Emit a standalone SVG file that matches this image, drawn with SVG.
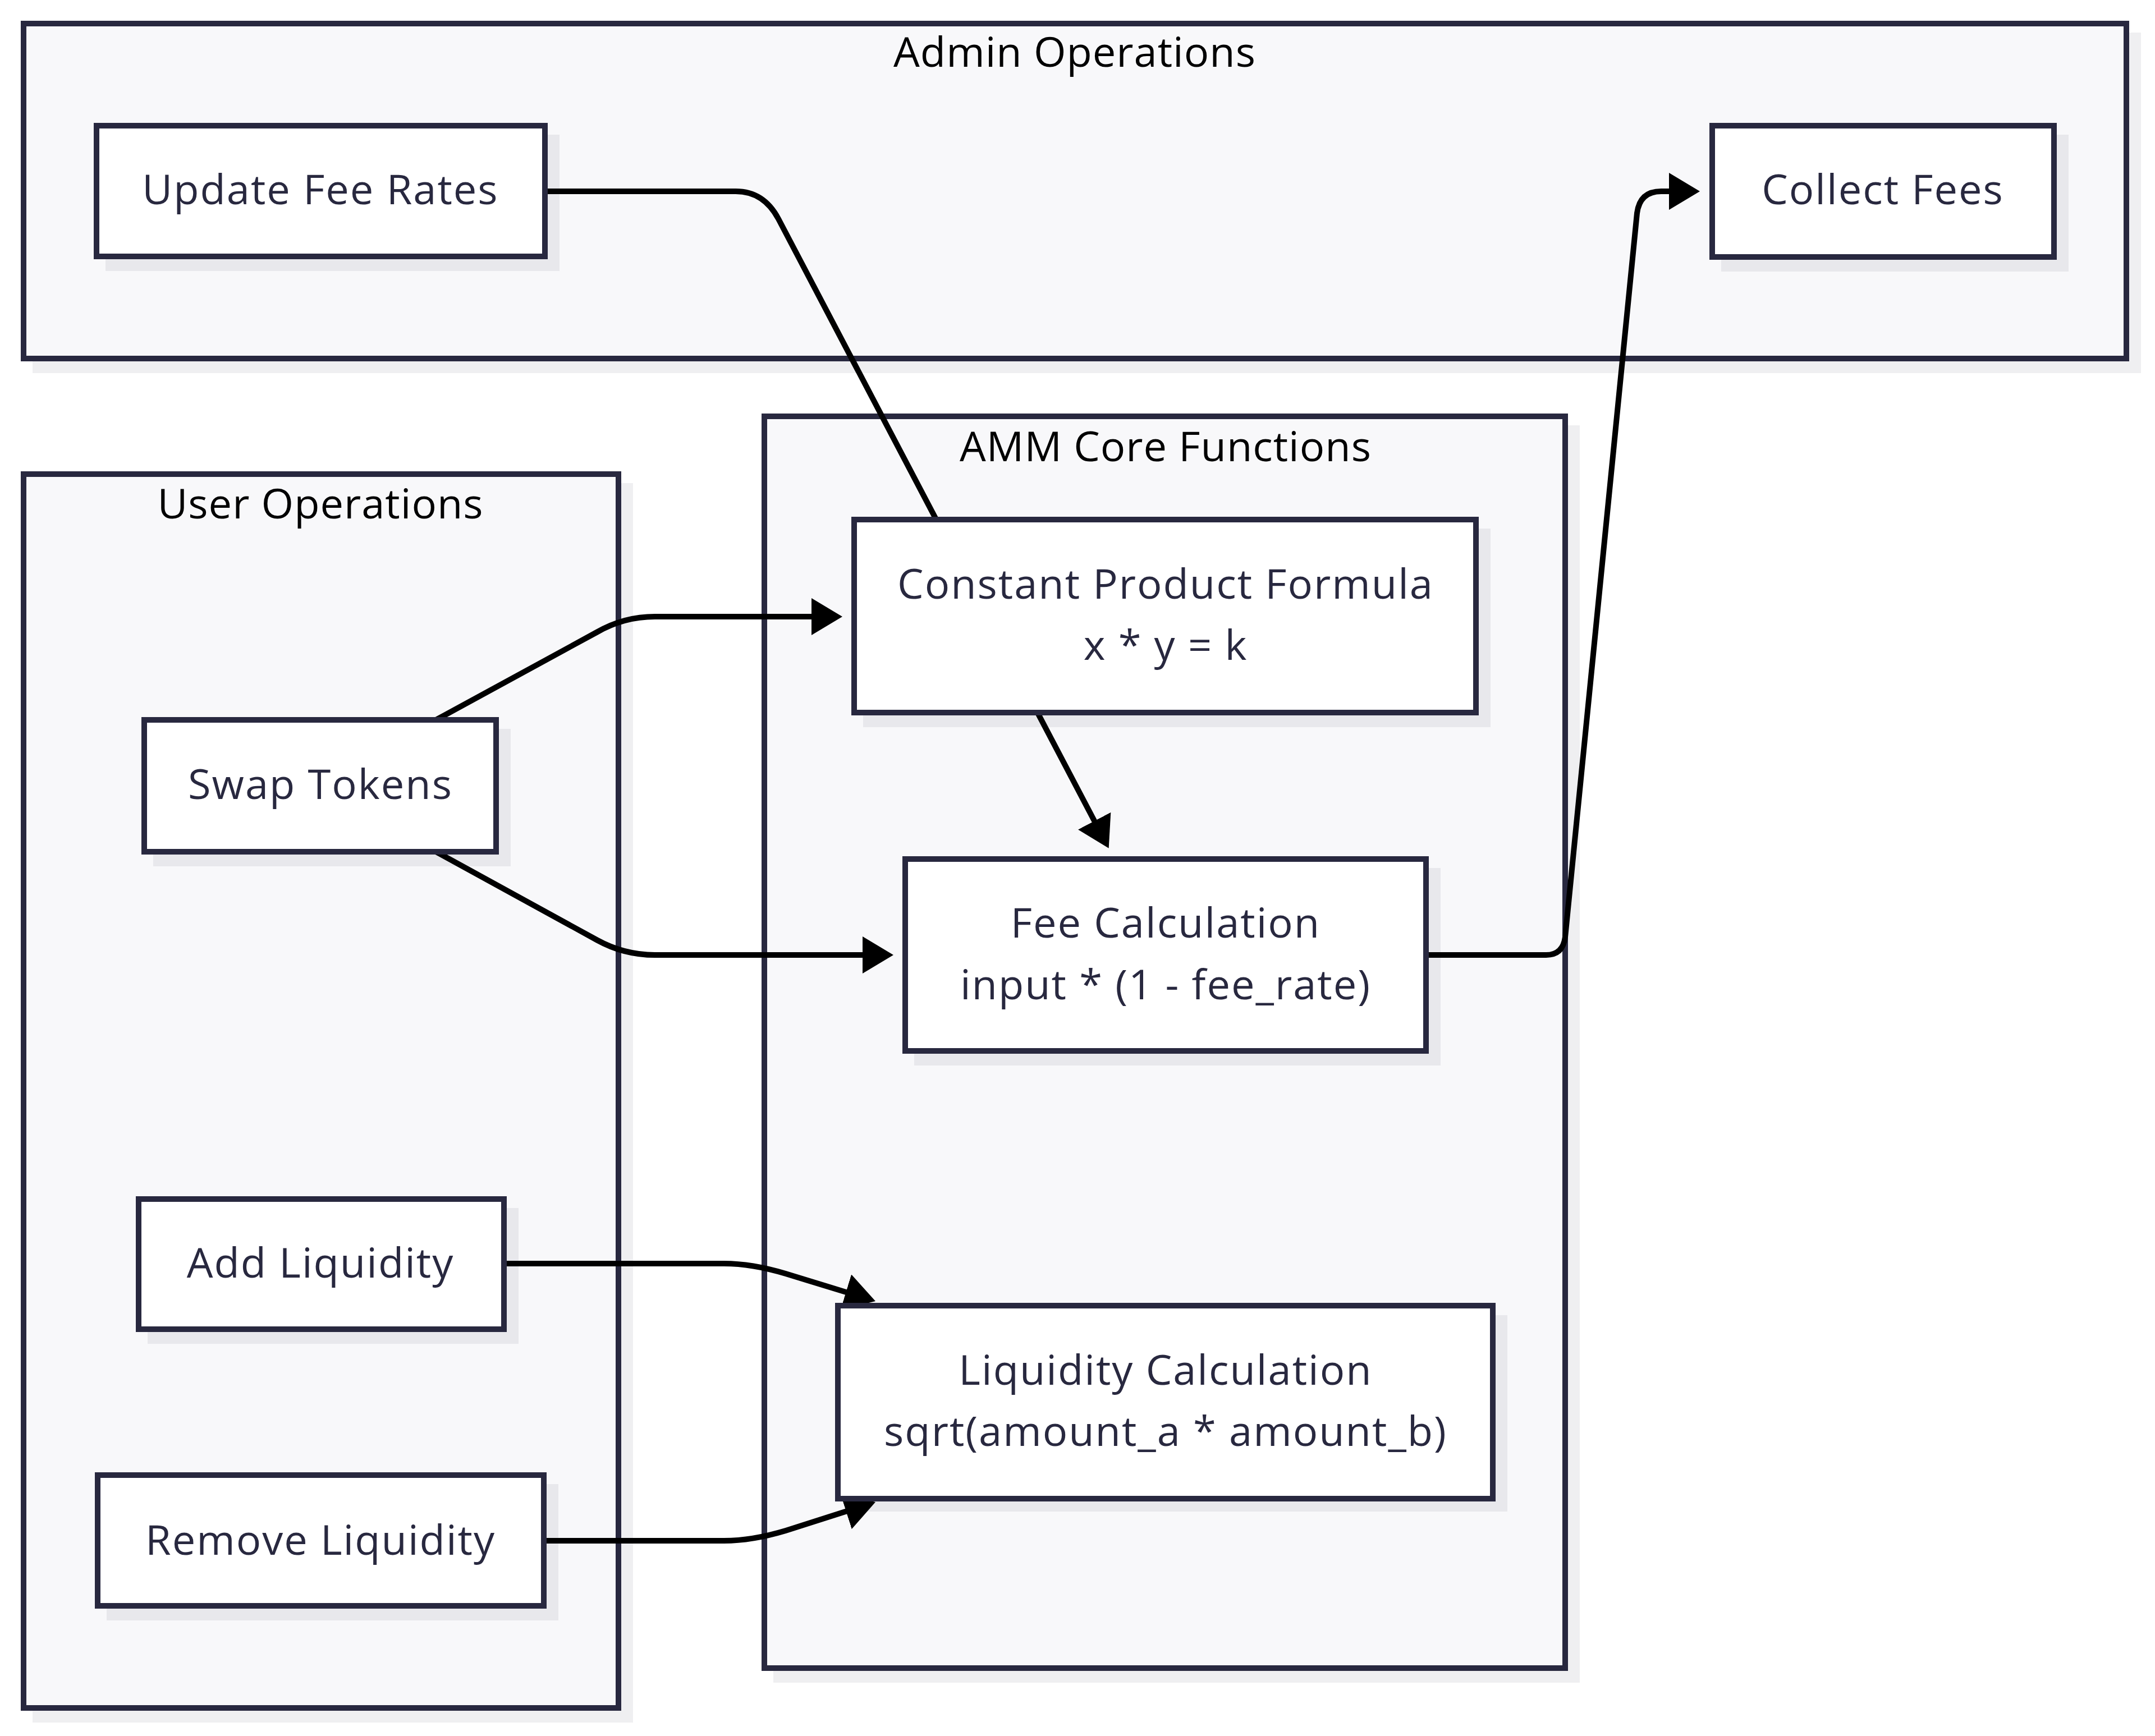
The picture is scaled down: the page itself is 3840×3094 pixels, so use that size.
<svg xmlns="http://www.w3.org/2000/svg" width="3840" height="3094" viewBox="0 0 3840 3094">
<style>
.cl{fill:#f8f8fa;stroke:#28283f;stroke-width:10}
.cls{fill:#efeff1}
.nd{fill:#ffffff;stroke:#28283f;stroke-width:10}
.nds{fill:#e8e8ec}
.t{font-family:"Open Sans","Liberation Sans",sans-serif;font-size:74px;letter-spacing:2px;fill:#28283f;text-anchor:middle}
.ct{font-family:"Open Sans","Liberation Sans",sans-serif;font-size:74px;letter-spacing:1px;fill:#000;text-anchor:middle}
.e{fill:none;stroke:#000;stroke-width:10}
</style>
<defs>
<marker id="arrow" viewBox="0 0 55 66" refX="45" refY="33" markerWidth="55" markerHeight="66" markerUnits="userSpaceOnUse" orient="auto"><path d="M0,0 L55,33 L0,66 z" fill="#000"/></marker>
</defs>
<rect width="3840" height="3094" fill="#ffffff"/>
<g id="clusters">
<g id="admin-ops">
<rect class="cls" x="58" y="58" width="3757" height="607"/>
<rect class="cl" x="42" y="42" width="3747" height="597"/>
<text class="ct" x="1915" y="119">Admin Operations</text>
</g>
<g id="user-ops">
<rect class="cls" x="58" y="861" width="1070" height="2209"/>
<rect class="cl" x="42" y="845" width="1060" height="2199"/>
<text class="ct" x="571" y="924">User Operations</text>
</g>
<g id="amm-core">
<rect class="cls" x="1378" y="758" width="1437" height="2241"/>
<rect class="cl" x="1362" y="742" width="1427" height="2231"/>
<text class="ct" x="2077" y="822">AMM Core Functions</text>
</g>
</g>
<g id="node-shadows">
<rect class="nds" x="188" y="240" width="809" height="243"/>
<rect class="nds" x="3067" y="240" width="619" height="244"/>
<rect class="nds" x="273" y="1299" width="637" height="245"/>
<rect class="nds" x="263" y="2153" width="661" height="242"/>
<rect class="nds" x="190" y="2645" width="805" height="243"/>
<rect class="nds" x="1538" y="942" width="1118" height="354"/>
<rect class="nds" x="1629" y="1547" width="938" height="352"/>
<rect class="nds" x="1509" y="2344" width="1177" height="350"/>
</g>
<g id="connectors">
<path class="e" d="M976,341 L1311,341 Q1361,341 1387,390 L1971,1503" marker-end="url(#arrow)"/>
<path class="e" d="M777,1283 L1064,1126.5 Q1112,1099 1167,1099 L1491,1099" marker-end="url(#arrow)"/>
<path class="e" d="M777,1518 L1064,1675.5 Q1112,1702 1167,1702 L1582,1702" marker-end="url(#arrow)"/>
<path class="e" d="M2541,1702 L2755,1702 Q2785,1702 2789,1670 L2917,380 Q2922,341 2960,341 L3019,341" marker-end="url(#arrow)"/>
<path class="e" d="M898,2252 L1290,2252 Q1340,2252 1400,2270 L1550.4,2316.1" marker-end="url(#arrow)"/>
<path class="e" d="M969,2746 L1290,2746 Q1340,2746 1400,2728 L1550.5,2680" marker-end="url(#arrow)"/>
</g>
<g id="update-fee-rates">
<rect class="nd" x="172" y="224" width="799" height="233"/>
<text class="t" x="571" y="364">Update Fee Rates</text>
</g>
<g id="collect-fees">
<rect class="nd" x="3051" y="224" width="609" height="234"/>
<text class="t" x="3355" y="364">Collect Fees</text>
</g>
<g id="swap-tokens">
<rect class="nd" x="257" y="1283" width="627" height="235"/>
<text class="t" x="571" y="1424">Swap Tokens</text>
</g>
<g id="add-liquidity">
<rect class="nd" x="247" y="2137" width="651" height="232"/>
<text class="t" x="571" y="2277">Add Liquidity</text>
</g>
<g id="remove-liquidity">
<rect class="nd" x="174" y="2629" width="795" height="233"/>
<text class="t" x="571" y="2771">Remove Liquidity</text>
</g>
<g id="constant-product">
<rect class="nd" x="1522" y="926" width="1108" height="344"/>
<text class="t" x="2077" y="1067">Constant Product Formula</text>
<text class="t" x="2077" y="1176">x * y = k</text>
</g>
<g id="fee-calculation">
<rect class="nd" x="1613" y="1531" width="928" height="342"/>
<text class="t" x="2077" y="1671">Fee Calculation</text>
<text class="t" x="2077" y="1781">input * (1 - fee_rate)</text>
</g>
<g id="liquidity-calculation">
<rect class="nd" x="1493" y="2327" width="1167" height="344"/>
<text class="t" x="2077" y="2468">Liquidity Calculation</text>
<text class="t" x="2077" y="2577">sqrt(amount_a * amount_b)</text>
</g>
</svg>
